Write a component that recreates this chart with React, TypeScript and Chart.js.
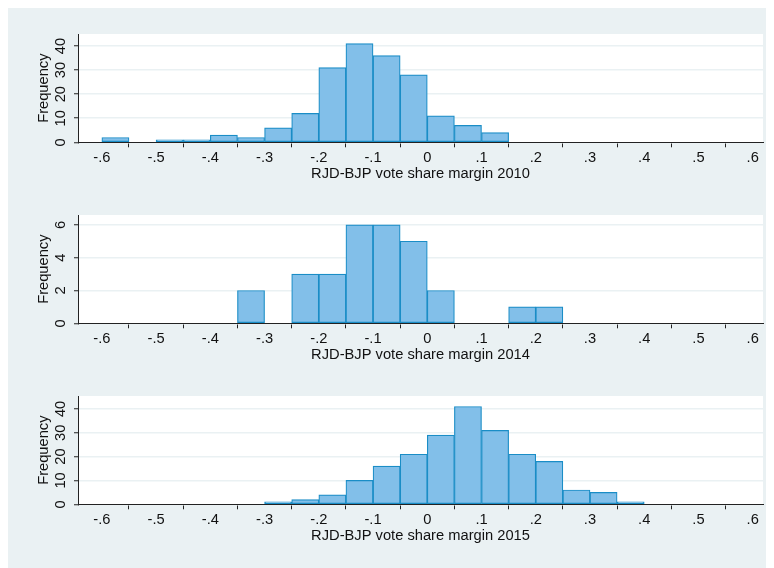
import React, { useEffect, useRef } from "react";
import { Chart, registerables } from "chart.js";

Chart.register(...registerables);

// ---------- DATA ----------
const binLeftEdges = [
  -0.6, -0.55, -0.5, -0.45, -0.4, -0.35, -0.3, -0.25, -0.2, -0.15, -0.1, -0.05,
  0, 0.05, 0.1, 0.15, 0.2, 0.25, 0.3, 0.35, 0.4, 0.45, 0.5, 0.55,
];
const binWidth = 0.05;

const counts2010 = [2, 0, 1, 1, 3, 2, 6, 12, 31, 41, 36, 28, 11, 7, 4, 0, 0, 0, 0, 0, 0, 0, 0, 0];
const counts2014 = [0, 0, 0, 0, 0, 2, 0, 3, 3, 6, 6, 5, 2, 0, 0, 1, 1, 0, 0, 0, 0, 0, 0, 0];
const counts2015 = [0, 0, 0, 0, 0, 0, 1, 2, 4, 10, 16, 21, 29, 41, 31, 21, 18, 6, 5, 1, 0, 0, 0, 0];

const xTickValues = [-0.6, -0.5, -0.4, -0.3, -0.2, -0.1, 0, 0.1, 0.2, 0.3, 0.4, 0.5, 0.6];
const xTickLabels = ["-.6", "-.5", "-.4", "-.3", "-.2", "-.1", "0", ".1", ".2", ".3", ".4", ".5", ".6"];

const yTicks2010 = [0, 10, 20, 30, 40];
const yTicks2014 = [0, 2, 4, 6];
const yTicks2015 = [0, 10, 20, 30, 40];

const xTitles = [
  "RJD-BJP vote share margin 2010",
  "RJD-BJP vote share margin 2014",
  "RJD-BJP vote share margin 2015",
];
const yTitle = "Frequency";

// ---------- STYLE ----------
const X_MIN = -0.644;
const X_MAX = 0.619;
const BG = "#EAF1F3";
const FILL = "#82BFE9";
const EDGE = "#1A8DC6";
const GRID = "#EAF1F3";
const AXIS = "#222222";
const TEXT = "#111111";
const FONT = '14.7px "Liberation Sans", Arial, sans-serif';

const CANVAS_W = 764;
const CANVAS_H = 181;
const AREA_TOP = 28;
const AREA_H = 108.3;
const AREA_LEFT = 70;
const AREA_RIGHT_PAD = 9;

type PanelProps = {
  counts: number[];
  yTicks: number[];
  yMax: number;
  title: string;
  top: number;
};

function Panel({ counts, yTicks, yMax, title, top }: PanelProps) {
  const ref = useRef<HTMLCanvasElement | null>(null);

  useEffect(() => {
    if (!ref.current) return;

    const bgPlugin = {
      id: "plotBg",
      beforeDraw(chart: any) {
        const { ctx, chartArea: a } = chart;
        ctx.save();
        ctx.fillStyle = "#FFFFFF";
        ctx.fillRect(a.left, a.top, a.right - a.left, a.bottom - a.top);
        ctx.restore();
      },
    };

    const labelPlugin = {
      id: "labels",
      afterDraw(chart: any) {
        const { ctx, chartArea: a } = chart;
        const xs = chart.scales.x;
        const ys = chart.scales.y;
        ctx.save();
        ctx.fillStyle = TEXT;
        ctx.font = FONT;
        ctx.textAlign = "center";
        ctx.textBaseline = "alphabetic";
        xTickValues.forEach((v, i) => {
          ctx.fillText(xTickLabels[i], xs.getPixelForValue(v), a.bottom + 19.4);
        });
        ctx.fillText(title, (a.left + a.right) / 2, a.bottom + 35.4);
        yTicks.forEach((v) => {
          const y = ys.getPixelForValue(v);
          ctx.save();
          ctx.translate(a.left - 12.8, y);
          ctx.rotate(-Math.PI / 2);
          ctx.fillText(String(v), 0, 0);
          ctx.restore();
        });
        ctx.save();
        ctx.translate(a.left - 29.8, (a.top + a.bottom) / 2);
        ctx.rotate(-Math.PI / 2);
        ctx.fillText(yTitle, 0, 0);
        ctx.restore();
        ctx.restore();
      },
    };

    const chart = new Chart(ref.current, {
      type: "bar",
      data: {
        datasets: [
          {
            data: binLeftEdges.map((e, i) => ({ x: e + binWidth / 2, y: counts[i] })),
            backgroundColor: FILL,
            borderColor: EDGE,
            borderWidth: 1.2,
            borderSkipped: false,
            barPercentage: 1,
            categoryPercentage: 1,
          } as any,
        ],
      },
      options: {
        animation: false,
        responsive: false,
        maintainAspectRatio: false,
        devicePixelRatio: 1,
        events: [],
        layout: { padding: { left: 0, right: AREA_RIGHT_PAD, top: AREA_TOP, bottom: 0 } },
        plugins: { legend: { display: false }, tooltip: { enabled: false }, title: { display: false } },
        scales: {
          x: {
            type: "linear",
            min: X_MIN,
            max: X_MAX,
            offset: false,
            afterBuildTicks: (s: any) => {
              s.ticks = xTickValues.map((v) => ({ value: v }));
            },
            afterFit: (s: any) => {
              s.height = CANVAS_H - AREA_TOP - AREA_H;
            },
            ticks: { display: false },
            grid: {
              drawOnChartArea: false,
              drawTicks: true,
              tickLength: 5,
              tickColor: AXIS,
              tickWidth: 1,
            },
            border: { display: true, color: AXIS, width: 1 },
          },
          y: {
            type: "linear",
            min: 0,
            max: yMax,
            afterBuildTicks: (s: any) => {
              s.ticks = yTicks.map((v) => ({ value: v }));
            },
            afterFit: (s: any) => {
              s.width = AREA_LEFT;
            },
            ticks: { display: false },
            grid: {
              color: GRID,
              lineWidth: 1.5,
              drawTicks: true,
              tickLength: 4,
              tickColor: AXIS,
              tickWidth: 1,
            },
            border: { display: true, color: AXIS, width: 1 },
          },
        },
      } as any,
      plugins: [bgPlugin, labelPlugin],
    });
    return () => chart.destroy();
  }, [counts, yTicks, yMax, title]);

  return (
    <canvas
      ref={ref}
      width={CANVAS_W}
      height={CANVAS_H}
      style={{ position: "absolute", left: 0, top, width: CANVAS_W, height: CANVAS_H }}
    />
  );
}

const descStyle: React.CSSProperties = {
  position: "absolute",
  left: 3,
  top: -17,
  fontSize: 22,
  lineHeight: "22px",
  fontFamily: '"Liberation Serif", serif',
  color: "#000",
};

export default function App() {
  useEffect(() => {
    document.documentElement.style.overflow = "hidden";
    document.body.style.overflow = "hidden";
  }, []);

  return (
    <div
      style={{
        position: "relative",
        top: -2,
        width: 764,
        height: 562,
        background: BG,
      }}
    >
      {/* cut-off descenders of the text line above the figure */}
      <div style={{ position: "absolute", left: 40, top: -6, width: 24, height: 6, overflow: "hidden" }}>
        <span style={descStyle}>g</span>
      </div>
      <div style={{ position: "absolute", left: 714, top: -6, width: 24, height: 6, overflow: "hidden" }}>
        <span style={descStyle}>g</span>
      </div>
      <Panel counts={counts2010} yTicks={yTicks2010} yMax={45} title={xTitles[0]} top={0} />
      <Panel counts={counts2014} yTicks={yTicks2014} yMax={6.6} title={xTitles[1]} top={181} />
      <Panel counts={counts2015} yTicks={yTicks2015} yMax={45.4} title={xTitles[2]} top={362} />
    </div>
  );
}
